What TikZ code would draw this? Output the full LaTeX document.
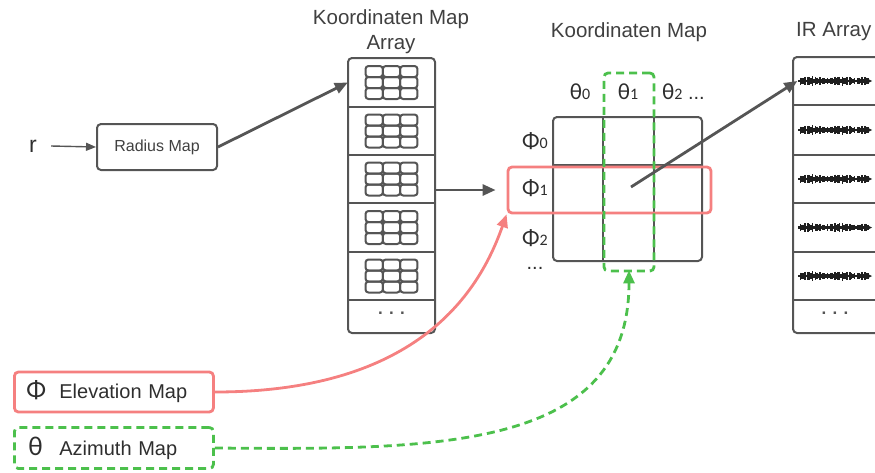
\documentclass[tikz,border=0pt]{standalone}
\usepackage{fontspec}
\setmainfont{Liberation Sans}
\newfontfamily\grk{Carlito}
\usetikzlibrary{arrows.meta}

\definecolor{linegray}{RGB}{85,85,85}
\definecolor{salmon}{RGB}{245,128,128}
\definecolor{leafgreen}{RGB}{76,192,76}

% Greek symbol with a small index digit on the baseline
\newcommand{\gsym}[2]{{\grk\fontsize{23}{24}\selectfont #1{\fontsize{16}{16}\selectfont #2}}}

\tikzset{
  graybox/.style={draw=linegray, line width=2pt, rounded corners=4pt, inner sep=0pt},
  divider/.style={draw=linegray, line width=2pt},
  conn/.style={draw=linegray, line width=2.8pt, -{Triangle[length=13pt,width=11pt]}},
  thinconn/.style={draw=linegray, line width=1.4pt, -{Triangle[length=10pt,width=8pt]}},
  redbox/.style={draw=salmon, line width=2.8pt, rounded corners=4pt, inner sep=0pt},
  greenbox/.style={draw=leafgreen, line width=2.8pt, rounded corners=4pt, inner sep=0pt, dash pattern=on 8pt off 5pt},
  redconn/.style={draw=salmon, line width=2.8pt, -{Triangle[length=13pt,width=11pt]}},
  greenconn/.style={draw=leafgreen, line width=2.8pt, dash pattern=on 8pt off 5pt, -{Triangle[length=13pt,width=11pt]}},
  title/.style={text=black!75, font=\fontsize{20.5}{25}\selectfont, inner sep=0pt},
  lbl/.style={text=black!82, font=\fontsize{20}{24}\selectfont, inner sep=0pt},
  cellslot/.style={minimum width=87pt, minimum height=48pt, inner sep=0pt},
  mapicon/.pic={
    \foreach \c in {0,1,2}
      \foreach \r in {0,1,2}
        \draw[draw=linegray, line width=2pt, rounded corners=3pt]
          (-26+\c*17.33,-16.5+\r*11) rectangle ++(17.33,11);
  },
  wave/.pic={
    \draw[line width=1.8pt] (-37,0) -- (33,0);
    \foreach \i in {0,...,46} {
      \pgfmathsetmacro\amp{1.2+3.4*abs(sin(\i*71))*(0.45+0.55*abs(sin(\i*9+20)))}
      \draw[line width=1.2pt] (-36+\i*1.5,-\amp) -- (-36+\i*1.5,\amp);
    }
    \fill (30,-3.5) -- (37,0) -- (30,3.5) -- cycle;
  }
}

\begin{document}
\begin{tikzpicture}[x=1pt,y=-1pt]
\useasboundingbox (0,0) rectangle (875,472);
\clip (0,0) rectangle (875,472);

% ---- radius input ----
\node[lbl, font=\fontsize{23}{26}\selectfont] (r) at (33,146) {r};
\node[graybox, minimum width=120pt, minimum height=46pt, text=black!75,
      font=\fontsize{16}{18}\selectfont] (radius) at (157,147) {Radius Map};

% ---- coordinate map array ----
\node[title, align=center] (t1) at (391,32) {Koordinaten Map\\Array};
\node[graybox, minimum width=87pt, minimum height=275pt] (arr) at (391.5,195.5) {};
\foreach \i/\y in {1/82.5,2/131,3/179,4/227.5,5/276}
  \node[cellslot] (arow\i) at (391.5,\y) {};
\node[cellslot, minimum height=33pt] (arow6) at (391.5,316.5) {};
\foreach \y in {107,155,203,252,300}
  \draw[divider] (arr.west |- 0,\y) -- (arr.east |- 0,\y);
\foreach \i in {1,...,5}
  \pic at (arow\i) {mapicon};
\node[lbl, text=linegray, font=\fontsize{17}{17}\selectfont\bfseries] (arrdots) at (391.5,313) {. . .};

% ---- single coordinate map ----
\node[title] (t2) at (629,32) {Koordinaten Map};
\draw[graybox] (553,117) rectangle (702,261);
\draw[divider] (603,117) -- (603,261);
\draw[divider] (654,117) -- (654,261);
\draw[divider] (553,165) -- (702,165);
\draw[divider] (553,213) -- (702,213);
\coordinate (ctr) at (631,187);

\node[lbl] (th0) at (580,92) {\gsym{θ}{0}};
\node[lbl] (th1) at (628,92) {\gsym{θ}{1}};
\node[lbl, anchor=west] (th2) at (662,92) {\gsym{θ}{2} ...};
\node[lbl] (ph0) at (535,141) {\gsym{Φ}{0}};
\node[lbl] (ph1) at (535,188) {\gsym{Φ}{1}};
\node[lbl] (ph2) at (535,238) {\gsym{Φ}{2}};
\node[lbl] (phdots) at (535,268) {...};

% ---- IR array ----
\node[title, anchor=west] (t3) at (796,32) {IR Array};
\node[graybox, minimum width=100pt, minimum height=276pt] (ir) at (843,195) {};
\foreach \i/\y in {1/81,2/130,3/179,4/227.5,5/276}
  \node[cellslot] (irrow\i) at (843,\y) {};
\foreach \y in {105,155,203,252,300}
  \draw[divider] (ir.west |- 0,\y) -- (ir.east |- 0,\y);
\foreach \i in {1,...,5}
  \pic[black!88] at ([xshift=-8pt]irrow\i) {wave};
\node[lbl, text=linegray, font=\fontsize{17}{17}\selectfont\bfseries] (irdots) at (835,313) {. . .};

% ---- highlight boxes ----
\node[redbox, minimum width=203pt, minimum height=46pt] (phirow) at (609.5,190) {};
\node[greenbox, minimum width=50pt, minimum height=198pt] (thetacol) at (629,172) {};

% ---- angle maps ----
\node[redbox, lbl, anchor=west, minimum height=40pt, text width=175pt, inner xsep=12pt,
      align=left] (elev) at (13,392)
      {\makebox[33pt][l]{\grk\fontsize{26}{26}\selectfont Φ}Elevation Map};
\node[greenbox, lbl, anchor=west, minimum height=41pt, text width=175pt, inner xsep=12pt,
      align=left] (azim) at (13,448)
      {\makebox[33pt][l]{\hspace{2pt}\grk\fontsize{27}{27}\selectfont θ}Azimuth Map};

% ---- connectors ----
\draw[thinconn] ([xshift=14pt]r.east) -- (radius.west);
\draw[conn] (radius.east) -- (arow1.west);
\draw[conn] (arow3.east |- phirow.west) -- ([xshift=-11pt]phirow.west);
\draw[conn] (ctr) -- ([xshift=-2pt]irrow1.west);
\draw[redconn] (elev.east) .. controls (420,392) and (480,290) .. (phirow.south west);
\draw[greenconn] (azim.east) .. controls (440,450) and (629,450) .. ([yshift=2pt]thetacol.south);
\end{tikzpicture}
\end{document}
